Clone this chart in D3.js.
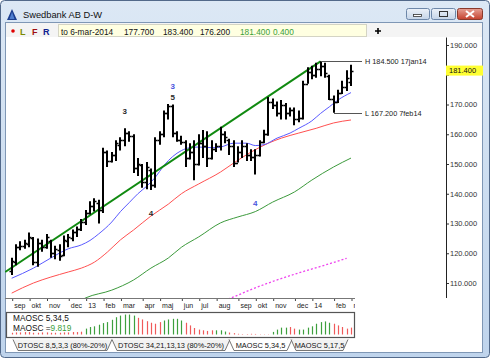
<!DOCTYPE html>
<html><head><meta charset="utf-8">
<script src="https://cdn.jsdelivr.net/npm/d3@7"></script>
<style>
html,body{margin:0;padding:0;background:#fff;}
svg{display:block;}
text{font-family:"Liberation Sans",Arial,sans-serif;}
</style></head><body>
<svg id="c" width="490" height="358"></svg>
<script>
// ---------------- DATA ----------------
const chartTitle = "Swedbank AB D-W";
const firstWeekEnd = new Date(2012, 8, 7);   // Friday
const lastWeekEnd  = new Date(2014, 2, 7);   // Friday
const infoLabels = ["to 6-mar-2014", "177.700", "183.400", "176.200", "181.400", "0.400"];

const opens  = [114,117,122,122.5,123,125,117,123.5,122,124,120,121,119.5,124,125,127,128,130.5,133.5,136,137,134.5,154,151,153,156.5,158,160.5,159.5,148.5,149.5,144,148,143,158,160,167,169.5,160.5,158,157.5,152,154,150,157,156,152,155,156,160,158,156,150.5,154,156,153,152.5,153,157.5,160,171,170,167,170,167,168,165,165.5,177,181,180,182,183,179.5,172,171,174,176,177.7];
const highs  = [118.5,123,124,124.5,127,125.5,125,124.5,126.5,124.5,122.5,123,126,126.5,128,129,131.5,134.5,137.5,138.5,138,155.5,154.5,154,158,159,162,161,160,152,150,150.7,148.5,159,161,168,170.2,170,161,159.5,158,157,158,160,161.4,161,158,157,162.5,161,158.5,158,156,158,157,155,155,158,161.5,172.5,172,171,171.5,170.5,169,169,168,178,182.5,183,184,184.5,184,180,173,175,178,181.5,183.4];
const lows   = [112.7,116,121,121.5,122,116,115.5,120.5,121.5,118.5,118,117.5,119,122,124,125.5,127.5,129.5,133,134,130,133.5,149,150.5,151,154.5,156,157.5,147,146,142,141.5,141.3,142,156.5,159,165,159,157.5,156.5,149,151.5,144.5,149.5,152,149,151.5,154,154.5,157,153,149,150.5,152,151,151,146.5,152.5,157,159.5,168.5,166,165,165,166,163,164,165,177,178.5,179,179.5,179,171.5,167.2,170.5,173.5,174.5,176.2];
const closes = [117.5,122,122.5,123.5,125.5,117,123.5,122,125.5,120,121.5,119,124.5,125.5,127,128,130.5,133.5,136,137.5,134.5,154,151,153,157,158,160.5,159.5,148.5,150,144,149,143,158,160,167,169.5,160.5,158,157.5,152,154,150,157,156,152,155,156,160,159,156,150.5,154,156,153,152.5,153,157.5,160,171,170,167,170,167,168,165,165.5,177,181,180,182,183,180.5,172,171,174,176,179,181.4];

// moving averages: [week index, value]
const maBlue  = [[0,111.6],[5,115],[9,118.4],[13,121.5],[16,122.8],[18,124.3],[20,126.5],[23,130.5],[25,134],[27,137],[29,140],[31,142.5],[33,145.5],[35,149.5],[37,152.5],[39,154.5],[41,155.5],[43,155.7],[46,155.5],[48,155.7],[51,157],[54,157],[56,156.2],[58,156.5],[61,158.7],[64,160.4],[66,162],[69,164.5],[71,167],[73,169.2],[75,171.5],[78,174]];
const maRed   = [[0,106.6],[5,110],[9,112],[13,113.7],[16,115],[19,117],[22,120.4],[25,124.5],[28,127.8],[32,132.5],[36,136.5],[39,140],[43,143.3],[48,147.3],[51,150.3],[55,154],[59,157],[62,158.7],[66,160.4],[70,162],[74,163.8],[78,164.8]];
const maGreen = [[15,103.5],[17,105],[23,107.6],[28,111],[32,115],[36,118.4],[39,122],[43,125.5],[48,130.2],[52,132.2],[56,134],[60,137.2],[65,140.6],[69,144.6],[74,149],[78,152]];
const maPink  = [[48,103.8],[51,105.3],[55,107.8],[59,110],[66,113.4],[72,116],[77,118.3]];
const trendLine = [[-1.5,113.7],[71,184.5]];

const waveMarks = [
  {i:26, v:167.8, t:"3", c:"#2a2a2a"},
  {i:37, v:176.2, t:"3", c:"#4a55dd"},
  {i:37, v:172.5, t:"5", c:"#2a2a2a"},
  {i:32, v:133.5, t:"4", c:"#2a2a2a"},
  {i:56, v:136.9, t:"4", c:"#4a55dd"}
];

const monthLabels = ["sep","okt","nov","dec","13","feb","mar","apr","maj","jun","jul","aug","sep","okt","nov","dec","14","feb","mar"];
const monthNames = ["jan","feb","mar","apr","maj","jun","jul","aug","sep","okt","nov","dec"];
const yTicks = [110,120,130,140,150,160,170,180,190];

const oscName = "MAOSC 5,34,5";
const oscValues = [2.5,3,3,3.5,3.5,2.5,2.5,3,3,2.5,2.5,2.5,3,3,3.5,3.5,4,8.4,10.7,11.7,14,16.3,17.7,21,24.7,27,28.5,28.5,27,23.8,21.5,19,16.8,15.4,17.7,20,21.5,22.4,22.4,20,16.8,13,9.3,7,6,5.1,6,6,6,4.2,2.8,1.9,1,0.6,0.6,1,0.8,0.4,0.4,0.4,3.7,7,9.8,9.8,10.7,8.4,7,7,9.8,11.7,15.4,17.7,18.7,16.8,15.4,13,10.7,8.4,9.819];
const oscColors = "rrrrrrrrrrrrrrrrrggggggggggggrrrrrrgggggrrrrrrrgggrrrrrrrrrrggggrrggggggggrrrrrg";
const tabLabels = ["DTOSC 8,5,3,3 (80%-20%)","DTOSC 34,21,13,13 (80%-20%)","MAOSC 5,34,5","MAOSC 5,17,5"];

// ---------------- DRAW ----------------
const svg = d3.select("#c");
const defs = svg.append("defs");
function grad(id, c1, c2){
  const g = defs.append("linearGradient").attr("id",id).attr("x1",0).attr("y1",0).attr("x2",0).attr("y2",1);
  g.append("stop").attr("offset","0%").attr("stop-color",c1);
  g.append("stop").attr("offset","100%").attr("stop-color",c2);
}
grad("frame","#dce8f5","#bfd4ec");
grad("btn","#edf2f9","#c4d4e8");
grad("cls","#e7a195","#c4402c");

// window frame
svg.append("rect").attr("x",0.5).attr("y",0.5).attr("width",489).attr("height",357).attr("rx",4)
  .attr("fill","url(#frame)").attr("stroke","#52698a");
// icon
svg.append("path").attr("d","M12,9 L17,20 L7,20 Z").attr("fill","#1d3f8f");
svg.append("path").attr("d","M12,12 L14.5,19 L9.5,19 Z").attr("fill","#4f7fd0");
svg.append("text").attr("x",23).attr("y",18).attr("font-size",9.3).attr("fill","#111").text(chartTitle);
// buttons
svg.append("rect").attr("x",406.5).attr("y",8.5).attr("width",23).attr("height",11).attr("rx",2).attr("fill","url(#btn)").attr("stroke","#6d87a9");
svg.append("rect").attr("x",413.5).attr("y",14.5).attr("width",8).attr("height",2).attr("fill","#fff").attr("stroke","#333").attr("stroke-width",0.8);
svg.append("rect").attr("x",431.5).attr("y",8.5).attr("width",24).attr("height",11).attr("rx",2).attr("fill","url(#btn)").attr("stroke","#6d87a9");
svg.append("rect").attr("x",439.5).attr("y",11.5).attr("width",8).attr("height",5).attr("fill","none").attr("stroke","#333").attr("stroke-width",1);
svg.append("rect").attr("x",457.5).attr("y",8.5).attr("width",25).attr("height",11).attr("rx",2).attr("fill","url(#cls)").attr("stroke","#8a3a2c");
svg.append("path").attr("d","M466,11 L474,17 M474,11 L466,17").attr("stroke","#fff").attr("stroke-width",2);

// client area
svg.append("rect").attr("x",5.5).attr("y",22.5).attr("width",477).attr("height",330).attr("fill","#fff").attr("stroke","#7f97b5");
// toolbar row
svg.append("rect").attr("x",6).attr("y",23).attr("width",476).attr("height",14).attr("fill","#f4f4f4");
svg.append("rect").attr("x",58.5).attr("y",24.5).attr("width",308).attr("height",12).attr("fill","#ffffe1").attr("stroke","#d4d4c4");
svg.append("circle").attr("cx",13).attr("cy",31).attr("r",1.8).attr("fill","#e00000");
[["L",20,"#7a8a00"],["F",32,"#a01010"],["R",43,"#102090"]].forEach(d=>{
  svg.append("text").attr("x",d[1]).attr("y",34.5).attr("font-size",9).attr("font-weight","bold").attr("fill",d[2]).text(d[0]);
});
const infoX = [61,124,163,200,240,273];
infoLabels.forEach((t,k)=>{
  svg.append("text").attr("x",infoX[k]).attr("y",34.5).attr("font-size",8.3)
    .attr("fill", k>=4 ? "#3aa03a" : "#111").text(t);
});
svg.append("path").attr("d","M375,31 H381 M378,28 V34").attr("stroke","#000").attr("stroke-width",1.6);

// scales
const weeks = d3.timeFriday.range(firstWeekEnd, d3.timeDay.offset(lastWeekEnd,1));
const n = weeks.length;
const xs = d3.scaleLinear().domain([0, n-1]).range([11.7, 351]);
const ys = d3.scaleLinear().domain([110, 190]).range([283, 45]);

// clip
defs.append("clipPath").attr("id","plot").append("rect").attr("x",5).attr("y",38).attr("width",441).attr("height",260);
defs.append("clipPath").attr("id","xax").append("rect").attr("x",5).attr("y",296).attr("width",350).attr("height",16);
const plot = svg.append("g").attr("clip-path","url(#plot)");

const line = d3.line().x(d=>xs(d[0])).y(d=>ys(d[1])).curve(d3.curveMonotoneX);
plot.append("path").attr("d",line(maPink)).attr("fill","none").attr("stroke","#ee44ee").attr("stroke-width",1.3).attr("stroke-dasharray","2,2");
plot.append("path").attr("d",line(maGreen)).attr("fill","none").attr("stroke","#3c9a3c").attr("stroke-width",1);
plot.append("path").attr("d",line(maRed)).attr("fill","none").attr("stroke","#ff5050").attr("stroke-width",1);
plot.append("path").attr("d",line(maBlue)).attr("fill","none").attr("stroke","#5a5aff").attr("stroke-width",1);
plot.append("path").attr("d",d3.line().x(d=>xs(d[0])).y(d=>ys(d[1]))(trendLine)).attr("fill","none").attr("stroke","#108a10").attr("stroke-width",2);

// OHLC bars
const bars = plot.append("g").attr("stroke","#000");
d3.range(n).forEach(i=>{
  const x = Math.round(xs(i));
  bars.append("path").attr("stroke-width",2)
    .attr("d",`M${x},${ys(highs[i])}V${ys(lows[i])}`);
  bars.append("path").attr("stroke-width",1.4)
    .attr("d",`M${x-2.5},${Math.round(ys(opens[i]))+0.5}H${x}M${x},${Math.round(ys(closes[i]))+0.5}H${x+2.5}`);
});

// wave marks
waveMarks.forEach(m=>{
  plot.append("text").attr("x",xs(m.i)).attr("y",ys(m.v)).attr("dy","0.35em").attr("text-anchor","middle")
    .attr("font-size",8).attr("font-weight","bold").attr("fill",m.c).text(m.t);
});

// high / low markers
const hiIdx = d3.maxIndex(highs);
const loIdx = hiIdx + d3.minIndex(lows.slice(hiIdx));
const fmtD = d => d.getDate() + monthNames[d.getMonth()] + String(d.getFullYear()).slice(2);
[[hiIdx, highs[hiIdx], "H"],[loIdx, lows[loIdx], "L"]].forEach(d=>{
  const y = Math.round(ys(d[1]))+0.5;
  svg.append("path").attr("d",`M${Math.round(xs(d[0]))},${y}H362`).attr("stroke","#555").attr("stroke-width",1);
  svg.append("text").attr("x",365).attr("y",y+2.6).attr("font-size",7.3).attr("fill","#222")
    .text(`${d[2]} ${d[1].toFixed(3)} ${fmtD(weeks[d[0]])}`);
});

// y axis
const lastY = ys(closes[n-1]);
const yAx = svg.append("g").attr("transform","translate(446,0)")
  .call(d3.axisRight(ys).tickValues(yTicks).tickFormat(d3.format(".3f")).tickSize(3).tickPadding(1));
yAx.select(".domain").remove();
yAx.selectAll("text").attr("font-size",7.5).attr("fill","#333").attr("font-family","Liberation Sans, Arial, sans-serif");
yAx.selectAll("line").attr("stroke","#333");
// the last-value tag covers the tick label beneath it
yAx.selectAll(".tick").filter(d => Math.abs(ys(d) - lastY) < 9).select("text").remove();
svg.append("path").attr("d","M446.5,37.5V298").attr("stroke","#222").attr("stroke-width",1);
// last value tag
svg.append("rect").attr("x",446).attr("y",lastY-5).attr("width",37).attr("height",10).attr("fill","#ffff33");
svg.append("text").attr("x",449).attr("y",lastY+2.7).attr("font-size",7.5).attr("fill","#111").text(closes[n-1].toFixed(3));

// x axis
const tickIdx = d3.range(n).filter(i=> i===0 || weeks[i].getMonth() !== weeks[i-1].getMonth());
const xg = svg.append("g").attr("clip-path","url(#xax)");
const xAx = xg.append("g").attr("transform","translate(0,298)")
  .call(d3.axisBottom(xs).tickValues(tickIdx).tickFormat((d,k)=>monthLabels[k]).tickSize(3).tickPadding(2));
xAx.select(".domain").remove();
xAx.selectAll("line").attr("stroke","#444").attr("transform","translate(0.5,0)");
xAx.selectAll("text").attr("text-anchor","start").attr("dx",2).attr("font-size",7).attr("fill","#222")
  .attr("font-family","Liberation Sans, Arial, sans-serif");
svg.append("path").attr("d","M5,298.5H355").attr("stroke","#777").attr("stroke-width",1);

// oscillator panel
svg.append("rect").attr("x",6.5).attr("y",312.5).attr("width",348).attr("height",25).attr("fill","#fff").attr("stroke","#555").attr("stroke-width",1.2);
const oy = d3.scaleLinear().domain([0,30]).range([334.5,313.5]);
d3.range(n).forEach(i=>{
  const x = Math.round(xs(i))+0.5;
  svg.append("path").attr("d",`M${x},${oy(0)}V${oy(oscValues[i])}`)
    .attr("stroke", oscColors[i]==="g" ? "#3ea03e" : "#f05a5a").attr("stroke-width",1.2);
});
svg.append("text").attr("x",13).attr("y",321).attr("font-size",8.3).attr("fill","#111").text(oscName);
const t2 = svg.append("text").attr("x",13).attr("y",330.5).attr("font-size",8.3).attr("fill","#111");
t2.append("tspan").text("MAOSC =");
t2.append("tspan").attr("fill","#3aa03a").text(oscValues[n-1].toFixed(3));

// tabs
const tabX = [[13,112],[112,230],[229,292],[291,348]];
tabLabels.forEach((t,k)=>{
  const [a,b] = tabX[k];
  const active = k===2;
  svg.append("path").attr("d",`M${a},339.5 L${a+5},350.5 L${b-5},350.5 L${b},339.5`)
    .attr("fill", active ? "#fff" : "#f2f2f2").attr("stroke","#666").attr("stroke-width",0.9);
  svg.append("text").attr("x",(a+b)/2).attr("y",347.5).attr("text-anchor","middle").attr("font-size",7.4)
    .attr("fill","#111").text(t);
});
</script>
</body></html>
